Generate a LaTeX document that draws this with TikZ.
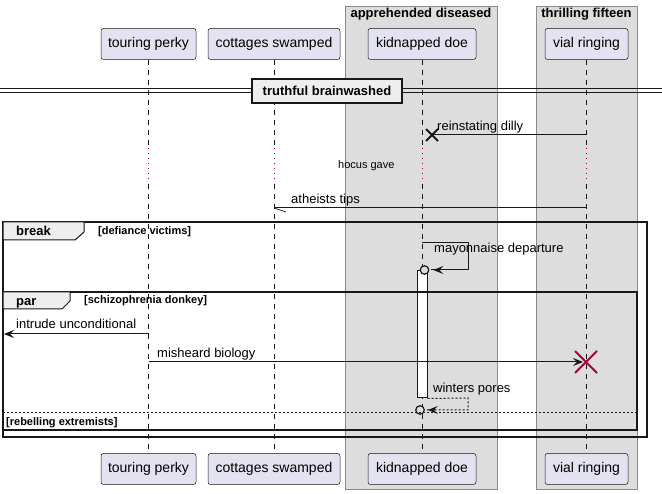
\documentclass[tikz,border=0pt]{standalone}
\usepackage{fontspec}
\setmainfont{Liberation Sans}
\usetikzlibrary{arrows.meta,shapes.misc}

\definecolor{partfill}{HTML}{E2E2F0}
\definecolor{inkline}{HTML}{181818}
\definecolor{grpfill}{HTML}{DDDDDD}
\definecolor{grpline}{HTML}{8A8A8A}
\definecolor{tabfill}{HTML}{EEEEEE}
\definecolor{killred}{HTML}{A80036}

\tikzset{
  part/.style={draw=inkline, fill=partfill, rounded corners=2.5pt, line width=0.5pt,
               minimum height=31pt, inner sep=0pt, font=\fontsize{14}{16}\selectfont},
  lifeline/.style={inkline, line width=0.5pt, dash pattern=on 5pt off 5pt},
  delayline/.style={killred, line width=1pt, dash pattern=on 1pt off 4pt},
  grp/.style={draw=grpline, fill=grpfill, line width=1pt},
  grptxt/.style={inner sep=0pt, font=\bfseries\fontsize{13}{15}\selectfont},
  msg/.style={inkline, line width=1pt},
  tip/.style={-{Stealth[length=10pt,width=8pt,inset=4pt]}},
  lbl/.style={anchor=base west, inner sep=0pt, font=\fontsize{13}{15}\selectfont},
  frm/.style={draw=inkline, line width=1.5pt},
  tab/.style={draw=inkline, fill=tabfill, line width=1pt},
  frmtxt/.style={anchor=base west, inner sep=0pt, font=\bfseries\fontsize{13}{15}\selectfont},
  condtxt/.style={anchor=base west, inner sep=0pt, font=\bfseries\fontsize{11}{13}\selectfont},
  ocirc/.style={circle, draw=inkline, fill=grpfill, line width=1.2pt, minimum size=8.5pt, inner sep=0pt}
}

\begin{document}
\begin{tikzpicture}[x=1pt,y=-1pt]
\useasboundingbox (0,0) rectangle (662,494);
\fill[white] (0,0) rectangle (662,494);

%---------------------------------------------------
\draw[grp] (345,7) rectangle (497,490);
\draw[grp] (536,7) rectangle (637,490);
\node[grptxt] (gApp) at (421,14) {apprehended diseased};
\node[grptxt] (gThr) at (586.5,14) {thrilling fifteen};

%---------------------------------------------------
\node[part, minimum width=95pt]  (tp-top) at (148.5,44) {touring perky};
\node[part, minimum width=132pt] (cs-top) at (274,44)   {cottages swamped};
\node[part, minimum width=108pt] (kd-top) at (422,44)   {kidnapped doe};
\node[part, minimum width=83pt]  (vr-top) at (586.5,44) {vial ringing};
\node[part, minimum width=95pt]  (tp-bot) at (148.5,469) {touring perky};
\node[part, minimum width=132pt] (cs-bot) at (274,469)   {cottages swamped};
\node[part, minimum width=108pt] (kd-bot) at (422,469)   {kidnapped doe};
\node[part, minimum width=83pt]  (vr-bot) at (586.5,469) {vial ringing};

\foreach \p in {tp,cs,kd,vr}{
  \draw[lifeline]  (\p-top.south) -- (\p-top.south |- 0,146);
  \draw[delayline] (\p-top.south |- 0,148) -- (\p-top.south |- 0,182);
  \draw[lifeline]  (\p-top.south |- 0,184) -- (\p-bot.north);
}

%--------------------------------------------------- divider
\draw[inkline, line width=1pt] (0,89) -- (662,89);
\draw[inkline, line width=1pt] (0,93) -- (662,93);
\node[draw=inkline, fill=tabfill, line width=2pt, minimum width=150pt, minimum height=24pt,
      inner sep=0pt, font=\bfseries\fontsize{13}{15}\selectfont] (divBox) at (327,91) {truthful brainwashed};

%--------------------------------------------------- messages
\node[cross out, draw=inkline, line width=2pt, minimum size=10pt, inner sep=0pt] (xDoe) at (432,135) {};
\draw[msg] (vr-top |- 0,135) -- (xDoe.center);
\node[lbl] (tDilly) at (437,131) {reinstating dilly};

\node[anchor=base west, inner sep=0pt, font=\fontsize{11}{13}\selectfont] (tHocus) at (338,169) {hocus gave};

\coordinate (atFrom) at (vr-top |- 0,208);
\coordinate (atTo) at (cs-top |- 0,208);
\draw[msg] (atFrom) -- (atTo);
\draw[inkline, line width=0.7pt] (atTo) -- ++(12,4);
\node[lbl] (tTips) at (291,204) {atheists tips};

%--------------------------------------------------- break frame
\draw[frm] (3,222) rectangle (647,437);
\draw[tab] (3,222) -- (84,222) -- (84,232) -- (75,240) -- (3,240) -- cycle;
\node[frmtxt] (tBreak) at (16,236) {break};
\node[condtxt] (cBreak) at (98,235) {[defiance victims]};

\node[draw=inkline, fill=white, line width=1pt, minimum width=10pt, minimum height=127pt,
      inner sep=0pt] (kdAct) at (422,334.5) {};

\coordinate (mdFrom) at (kd-top |- 0,243);
\node[ocirc] (oMay) at (424.5,270) {};
\draw[msg] (mdFrom) -- (468,243) -- (468,270) -- ([xshift=2pt]oMay.east);
\draw[msg, tip] (468,270) -- ([xshift=4pt]oMay.east);
\node[lbl] (tMay) at (434,253) {mayonnaise departure};

%--------------------------------------------------- par frame
\draw[frm] (3,292) rectangle (637,430);
\draw[tab] (3,292) -- (70,292) -- (70,301) -- (62,309) -- (3,309) -- cycle;
\node[frmtxt] (tPar) at (16,306) {par};
\node[condtxt] (cPar) at (84,304) {[schizophrenia donkey]};

\coordinate (iuFrom) at (tp-top |- 0,334);
\coordinate (iuTo) at (4,334);
\draw[msg, tip] (iuFrom) -- (iuTo);
\node[lbl] (tIntr) at (16,329) {intrude unconditional};

\coordinate (mbFrom) at (tp-top |- 0,362);
\node[cross out, draw=killred, line width=2pt, minimum size=20pt, inner sep=0pt] (xVial) at (586,362) {};
\draw[msg, tip] (mbFrom) -- ([xshift=-3pt]xVial.center);
\node[lbl] (tMish) at (157,358) {misheard biology};

\node[ocirc] (oWin) at (420,410) {};
\draw[msg, dash pattern=on 2pt off 2pt] (kdAct.south east) -- (468,398) -- (468,410) -- ([xshift=2pt]oWin.east);
\draw[msg, tip] ([xshift=4pt]oWin.east) ++(6,0) -- ([xshift=3pt]oWin.east);
\node[lbl] (tWin) at (433,393) {winters pores};

\draw[inkline, line width=1pt, dash pattern=on 2pt off 2pt] (3,413) -- (637,413);
\node[condtxt] (cElse) at (6,426) {[rebelling extremists]};
\end{tikzpicture}
\end{document}
